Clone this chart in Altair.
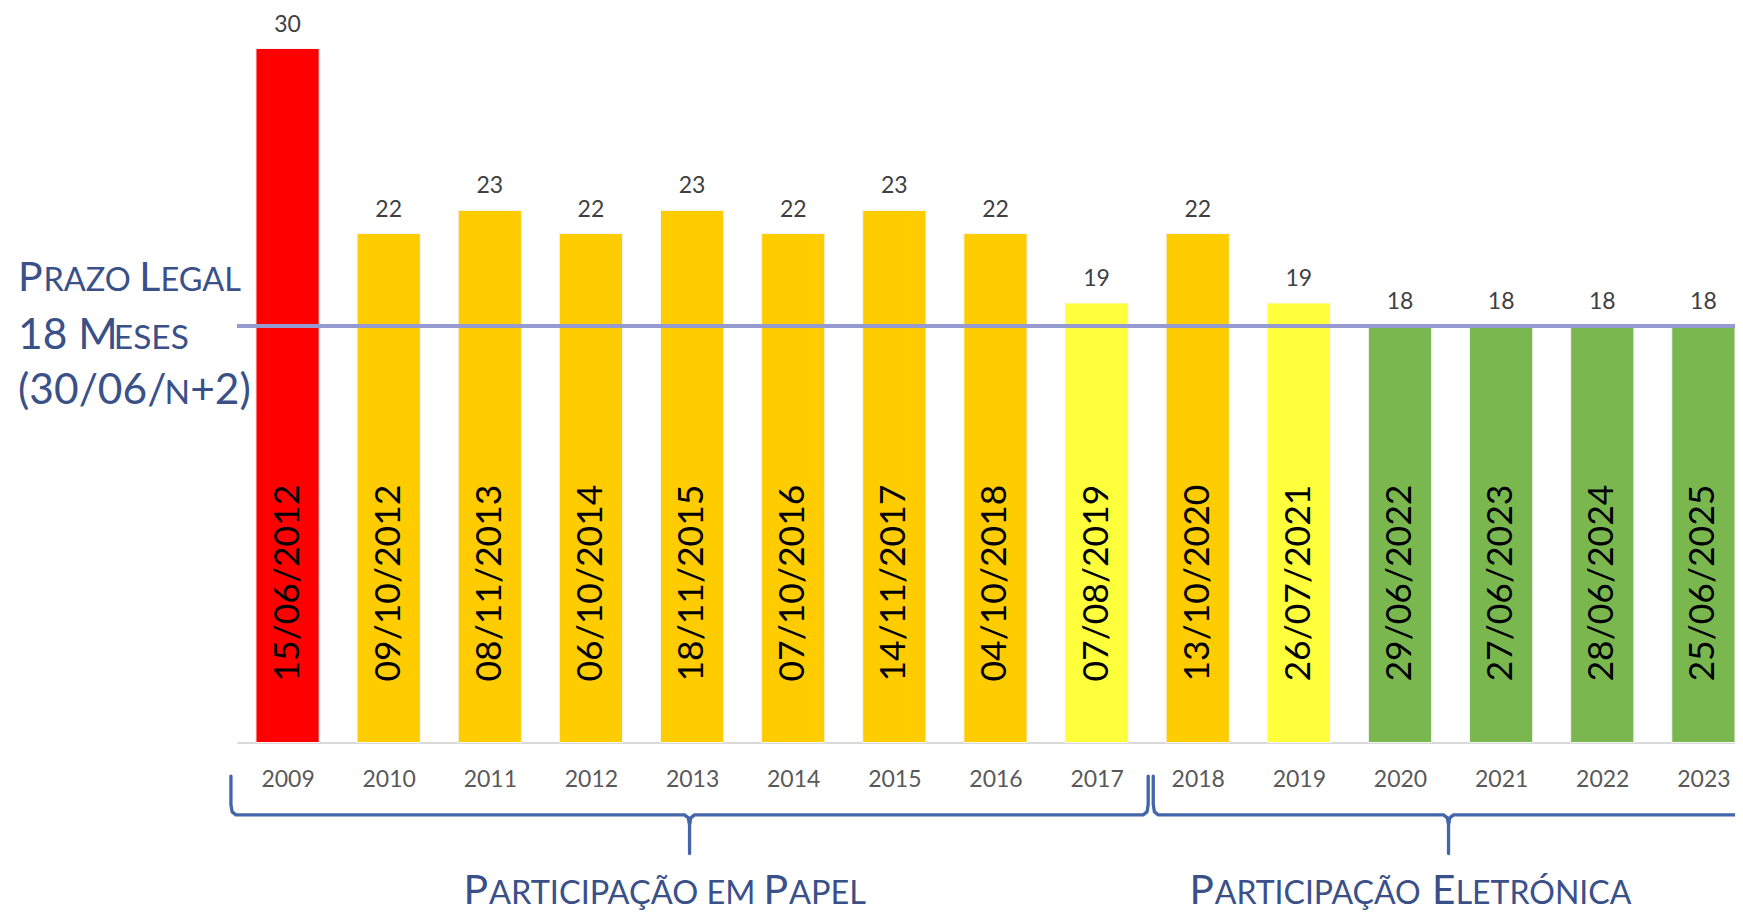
import altair as alt
import pandas as pd

# ---------------- data ----------------
years = list(range(2009, 2024))
months = [30, 22, 23, 22, 23, 22, 23, 22, 19, 22, 19, 18, 18, 18, 18]
dates = ["15/06/2012", "09/10/2012", "08/11/2013", "06/10/2014", "18/11/2015",
         "07/10/2016", "14/11/2017", "04/10/2018", "07/08/2019", "13/10/2020",
         "26/07/2021", "29/06/2022", "27/06/2023", "28/06/2024", "25/06/2025"]
status = ["grave", "atraso", "atraso", "atraso", "atraso", "atraso", "atraso", "atraso",
          "ligeiro", "atraso", "ligeiro", "prazo", "prazo", "prazo", "prazo"]
status_names = ["grave", "atraso", "ligeiro", "prazo"]
legal_limit = 18
group_names = ["Participação em Papel", "Participação Eletrónica"]
group_start = [2008.44, 2017.56]
group_end = [2017.51, 2023.40]

# ---------------- styles ----------------
status_colors = ["#FF0000", "#FFCC00", "#FFFF3C", "#7AB84F"]
FONT = "Lato"
TXT_BLUE = "#3A5089"
BRACE_BLUE = "#4565AB"
LINE_COLOR = "#959BD0"
X_DOMAIN = [2008.5, 2023.3125]
HALF_BAR = 0.3125
W, H = 1498, 694
PAD_TOP = 40.5

df = pd.DataFrame({"year": years, "months": months, "date": dates, "status": status})

x_scale = alt.Scale(domain=X_DOMAIN, nice=False, zero=False)
y_scale = alt.Scale(domain=[0, 30], nice=False)

bars = alt.Chart(df).transform_calculate(
    x0=f"datum.year - {HALF_BAR}", x1=f"datum.year + {HALF_BAR}"
).mark_bar(stroke="#F4F4F4", strokeWidth=1).encode(
    x=alt.X("x0:Q", scale=x_scale, title=None,
            axis=alt.Axis(values=years, format="d", ticks=False, tickSize=0, grid=False,
                          domainColor="#D9D9D9", domainWidth=2, labelFont=FONT,
                          labelFontSize=23, labelColor="#595959", labelPadding=44,
                          labelBaseline="alphabetic", labelFlush=False, labelOverlap=False,
                          title=None)),
    x2="x1:Q",
    y=alt.Y("months:Q", scale=y_scale, axis=None),
    y2=alt.datum(0),
    color=alt.Color("status:N", scale=alt.Scale(domain=status_names, range=status_colors),
                    legend=None),
)

limit_rule = alt.Chart(df).mark_rule(color=LINE_COLOR, strokeWidth=4).encode(
    y=alt.YDatum(legal_limit, axis=None)
)

value_labels = alt.Chart(df).mark_text(
    font=FONT, fontSize=23, color="#404040", baseline="alphabetic", dy=-17
).encode(
    x=alt.X("year:Q", title=None),
    y=alt.Y("months:Q", axis=None),
    text="months:Q",
)

date_labels = alt.Chart(df).mark_text(
    font=FONT, fontSize=35.5, color="#000000", angle=270, align="left",
    baseline="middle", dx=61
).encode(
    x=alt.X("year:Q", title=None),
    y=alt.YDatum(0, axis=None),
    text="date:N",
)

# ---------------- braces ----------------
TOP, MID, BOT = -1.45, -3.13, -4.80
rows = []
for gi, (a, b) in enumerate(zip(group_start, group_end)):
    c = (a + b) / 2
    pts = [(a, TOP), (a, MID + 0.45), (a + 0.012, MID + 0.13), (a + 0.05, MID),
           (c - 0.05, MID), (c - 0.012, MID - 0.13), (c, MID - 0.45), (c, BOT),
           (c, MID - 0.45), (c + 0.012, MID - 0.13), (c + 0.05, MID),
           (b - 0.05, MID), (b - 0.012, MID + 0.13), (b, MID + 0.45), (b, TOP)]
    for k, (px, py) in enumerate(pts):
        rows.append({"bx": px, "by": py, "ord": k, "grp": gi})
brace_df = pd.DataFrame(rows)

braces = alt.Chart(brace_df).mark_line(
    color=BRACE_BLUE, strokeWidth=3.3, strokeJoin="round", strokeCap="round"
).encode(
    x=alt.X("bx:Q", title=None),
    y=alt.Y("by:Q", axis=None),
    detail="grp:N",
    order="ord:Q",
)

# ---------------- small-caps annotation text ----------------
LATO_W = {" ": 0.193, "A": 0.677, "C": 0.68, "Ç": 0.68, "Ã": 0.677, "E": 0.572,
          "G": 0.726, "I": 0.284, "L": 0.506, "M": 0.89, "N": 0.75, "O": 0.8,
          "Ó": 0.8, "P": 0.609, "R": 0.632, "S": 0.525, "T": 0.582, "Z": 0.614,
          "(": 0.317, ")": 0.317, "/": 0.40, "+": 0.58}
for d in "0123456789":
    LATO_W[d] = 0.58


def seg_width(s, size):
    return sum(LATO_W.get(ch, 0.6) for ch in s) * size


BIG, SMALL = 41, 32.5


def small_caps_layers(segments, xd, yd, dx0, dy, big=BIG, small=SMALL):
    layers = []
    off = dx0
    for txt, is_big in segments:
        size = big if is_big else small
        layers.append(
            alt.Chart(df).transform_filter("datum.year == 2009").mark_text(
                text=txt, font=FONT, fontSize=size, color=TXT_BLUE, align="left",
                baseline="alphabetic", dx=off, dy=dy
            ).encode(x=alt.XDatum(xd, title=None), y=alt.YDatum(yd, axis=None))
        )
        off += seg_width(txt, size) + 0.5
    return layers


left_x = X_DOMAIN[0]
ann = []
ann += small_caps_layers([("P", 1), ("RAZO", 0), (" ", 0), ("L", 1), ("EGAL", 0)],
                         left_x, legal_limit, -219, -35)
ann += small_caps_layers([("18 M", 1), ("ESES", 0)], left_x, legal_limit, -219, 23,
                         big=42.5, small=33.5)
ann += small_caps_layers([("(30/06/", 1), ("N", 0), ("+2)", 1)], left_x, legal_limit, -219, 78,
                         big=42.5, small=33.5)

centers = [(a + b) / 2 for a, b in zip(group_start, group_end)]
ann += small_caps_layers([("P", 1), ("ARTICIPAÇÃO EM ", 0), ("P", 1), ("APEL", 0)],
                         centers[0], 0, -226, 161)
ann += small_caps_layers([("P", 1), ("ARTICIPAÇÃO ", 0), ("E", 1), ("LETRÓNICA", 0)],
                         centers[1], 0, -259, 161, big=40.5, small=32)

chart = alt.layer(bars, limit_rule, value_labels, date_labels, braces, *ann).properties(
    width=W, height=H,
    autosize=alt.AutoSizeParams(type="none"),
    padding={"left": 229, "top": PAD_TOP, "right": 0, "bottom": 168.5},
    background="white",
).configure_view(stroke=None)

chart.save("out.html", embed_options={"renderer": "svg", "actions": False})
